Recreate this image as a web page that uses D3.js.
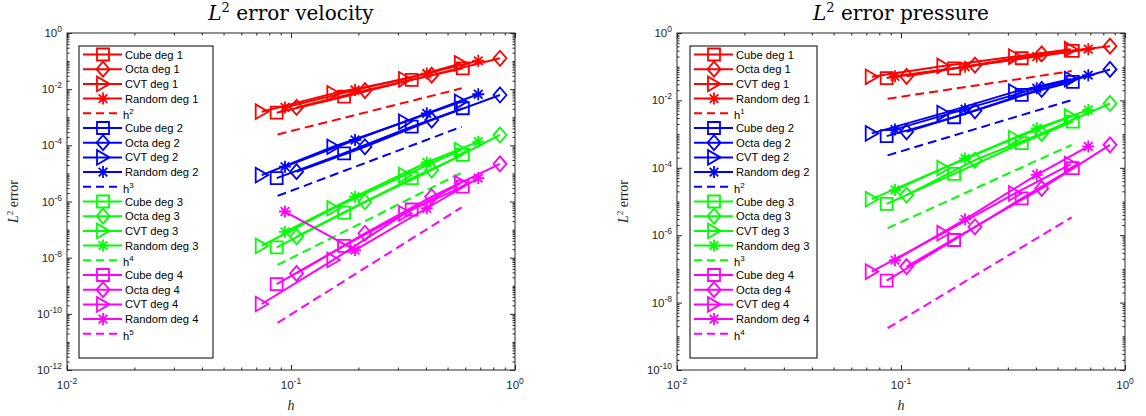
<!DOCTYPE html>
<html><head><meta charset="utf-8">
<script src="https://cdn.jsdelivr.net/npm/d3@7"></script>
<style>body{margin:0;background:#fff} svg{display:block}</style>
</head><body>
<svg id="chart" width="1146" height="416"></svg>
<script>
// ---------------- DATA ----------------
const methods = ["Cube", "Octa", "CVT", "Random"];
const degrees = [1, 2, 3, 4];
const hCube   = [0.0863, 0.1726, 0.3459, 0.5848];
const hOcta   = [0.1059, 0.2138, 0.4246, 0.857];
const hCVT    = [0.0740, 0.1545, 0.3228, 0.573];
const hRandom = [0.0940, 0.1932, 0.4036, 0.6855];
const hRef    = [0.0871, 0.578];

// velocity L2 errors
const velCube1   = [1.45e-3, 5.4e-3, 2.14e-2, 5.5e-2];
const velOcta1   = [2.24e-3, 8.9e-3, 3.16e-2, 0.126];
const velCVT1    = [1.58e-3, 7.1e-3, 2.24e-2, 8.3e-2];
const velRandom1 = [2.24e-3, 9.3e-3, 3.6e-2, 0.102];
const velRef1    = [2.44e-4, 1.07e-2];
const velCube2   = [6.8e-6, 5.2e-5, 4.6e-4, 2.09e-3];
const velOcta2   = [1.15e-5, 8.9e-5, 7.9e-4, 6.2e-3];
const velCVT2    = [8.7e-6, 8.9e-5, 6.9e-4, 3.55e-3];
const velRandom2 = [1.74e-5, 1.55e-4, 1.38e-3, 6.6e-3];
const velRef2    = [1.58e-6, 4.6e-4];
const velCube3   = [2.34e-8, 4.0e-7, 6.8e-6, 4.6e-5];
const velOcta3   = [5.6e-8, 9.8e-7, 1.32e-5, 2.34e-4];
const velCVT3    = [2.63e-8, 5.75e-7, 8.7e-6, 6.8e-5];
const velRandom3 = [8.3e-8, 1.48e-6, 2.45e-5, 1.35e-4];
const velRef3    = [5.5e-9, 1.06e-5];
const velCube4   = [1.15e-9, 2.63e-8, 5.2e-7, 3.4e-6];
const velOcta4   = [2.75e-9, 7.4e-8, 1.48e-6, 2.19e-5];
const velCVT4    = [2.24e-10, 8.3e-9, 3.8e-7, 4.5e-6];
const velRandom4 = [4.4e-7, 1.86e-8, 5.75e-7, 6.8e-6];
const velRef4    = [4.8e-11, 6.2e-7];

// pressure L2 errors
const preCube1   = [4.6e-2, 8.9e-2, 0.178, 0.295];
const preOcta1   = [5.2e-2, 0.112, 0.24, 0.407];
const preCVT1    = [5.0e-2, 0.105, 0.20, 0.331];
const preRandom1 = [5.2e-2, 0.100, 0.20, 0.331];
const preRef1    = [1.12e-2, 7.4e-2];
const preCube2   = [8.7e-4, 3.16e-3, 1.45e-2, 3.55e-2];
const preOcta2   = [1.17e-3, 4.9e-3, 2.14e-2, 8.3e-2];
const preCVT2    = [1.05e-3, 4.2e-3, 1.82e-2, 4.3e-2];
const preRandom2 = [1.38e-3, 5.5e-3, 2.29e-2, 5.6e-2];
const preRef2    = [2.34e-4, 1.02e-2];
const preCube3   = [8.5e-6, 6.6e-5, 5.4e-4, 2.34e-3];
const preOcta3   = [1.55e-5, 1.7e-4, 1.05e-3, 8.1e-3];
const preCVT3    = [1.17e-5, 9.8e-5, 7.6e-4, 3.3e-3];
const preRandom3 = [2.19e-5, 1.9e-4, 1.48e-3, 5.2e-3];
const preRef3    = [1.62e-6, 4.8e-4];
const preCube4   = [4.5e-8, 7.2e-7, 1.23e-5, 9.8e-5];
const preOcta4   = [1.17e-7, 1.78e-6, 2.45e-5, 4.8e-4];
const preCVT4    = [8.3e-8, 1.15e-6, 1.74e-5, 1.29e-4];
const preRandom4 = [1.82e-7, 2.95e-6, 6.2e-5, 4.3e-4];
const preRef4    = [1.74e-9, 3.4e-6];

const velRefPowers = ["2", "3", "4", "5"];
const preRefPowers = ["1", "2", "3", "4"];
const velYTicks = [1e-12, 1e-10, 1e-8, 1e-6, 1e-4, 1e-2, 1];
const preYTicks = [1e-10, 1e-8, 1e-6, 1e-4, 1e-2, 1];
const xTicks = [1e-2, 1e-1, 1];

// ---------------- STYLE ----------------
const colors = ["#ff0000", "#0000ff", "#00ff00", "#ff00ff"];
const hByMethod = {Cube: hCube, Octa: hOcta, CVT: hCVT, Random: hRandom};
const markerByMethod = {Cube: "square", Octa: "diamond", CVT: "triangle", Random: "star"};
const axisColor = "#262626";
const sansFont = "'Liberation Sans', Arial, Helvetica, sans-serif";
const serifFont = "'Liberation Serif', 'Times New Roman', serif";
const titleFont = "'DejaVu Serif', 'Liberation Serif', serif";

function markerPath(t) {
  if (t === "square") return "M-6,-6H6V6H-6Z";
  if (t === "diamond") return "M0,-7.5L6.5,0L0,7.5L-6.5,0Z";
  if (t === "triangle") return "M6.5,0L-6,-7.3L-6,7.3Z";
  return "M0,-6V6M-6,0H6M-4.3,-4.3L4.3,4.3M-4.3,4.3L4.3,-4.3";
}

const velData = {
  Cube: [velCube1, velCube2, velCube3, velCube4],
  Octa: [velOcta1, velOcta2, velOcta3, velOcta4],
  CVT: [velCVT1, velCVT2, velCVT3, velCVT4],
  Random: [velRandom1, velRandom2, velRandom3, velRandom4],
  Ref: [velRef1, velRef2, velRef3, velRef4]
};
const preData = {
  Cube: [preCube1, preCube2, preCube3, preCube4],
  Octa: [preOcta1, preOcta2, preOcta3, preOcta4],
  CVT: [preCVT1, preCVT2, preCVT3, preCVT4],
  Random: [preRandom1, preRandom2, preRandom3, preRandom4],
  Ref: [preRef1, preRef2, preRef3, preRef4]
};

const svg = d3.select("#chart");

function addPow(sel, base, exp, baseSize, expSize, rise) {
  sel.append("tspan").text(base).attr("font-size", baseSize);
  sel.append("tspan").text(exp).attr("font-size", expSize).attr("dy", -rise);
}

function drawPanel(opt) {
  const {x0, x1, y0, y1, yMin, yTicks, data, powers, title} = opt;
  const g = svg.append("g");
  const x = d3.scaleLog().domain([0.01, 1]).range([x0, x1]);
  const y = d3.scaleLog().domain([yMin, 1]).range([y1, y0]);

  const xMinor = [];
  for (let e = -2; e < 0; e++) for (let m = 2; m <= 9; m++) xMinor.push(m * Math.pow(10, e));
  const yMinor = [];
  const eMin = Math.round(Math.log10(yMin));
  for (let e = eMin; e < 0; e++) for (let m = 1; m <= 9; m++) {
    const v = m * Math.pow(10, e);
    if (!yTicks.some(t => Math.abs(Math.log10(t) - Math.log10(v)) < 1e-9)) yMinor.push(v);
  }

  const axes = [
    [d3.axisBottom(x), `translate(0,${y1})`, xTicks, xMinor],
    [d3.axisTop(x), `translate(0,${y0})`, xTicks, xMinor],
    [d3.axisLeft(y), `translate(${x0},0)`, yTicks, yMinor],
    [d3.axisRight(y), `translate(${x1},0)`, yTicks, yMinor]
  ];
  axes.forEach(([ax, tr, major, minor]) => {
    const ga = g.append("g").attr("transform", tr)
      .call(ax.tickValues(major).tickSize(-5).tickSizeOuter(0).tickFormat(""));
    ga.select(".domain").remove();
    ga.selectAll("line").attr("stroke", axisColor);
    const gm = g.append("g").attr("transform", tr)
      .call(ax.tickValues(minor).tickSize(-2.5).tickSizeOuter(0).tickFormat(""));
    gm.select(".domain").remove();
    gm.selectAll("line").attr("stroke", axisColor);
  });
  g.append("rect").attr("x", x0).attr("y", y0).attr("width", x1 - x0).attr("height", y1 - y0)
    .attr("fill", "none").attr("stroke", axisColor).attr("stroke-width", 1);

  yTicks.forEach(v => {
    const t = g.append("text").attr("x", x0 - 5).attr("y", y(v) + 4)
      .attr("text-anchor", "end").attr("font-family", sansFont).attr("fill", axisColor);
    addPow(t, "10", String(Math.round(Math.log10(v))), 11.5, 8.5, 5);
  });
  xTicks.forEach(v => {
    const t = g.append("text").attr("x", x(v)).attr("y", y1 + 18.5)
      .attr("text-anchor", "middle").attr("font-family", sansFont).attr("fill", axisColor);
    addPow(t, "10", String(Math.round(Math.log10(v))), 11.5, 8.5, 5);
  });

  g.append("text").attr("x", (x0 + x1) / 2).attr("y", y1 + 40)
    .attr("text-anchor", "middle").attr("font-family", serifFont).attr("font-size", 14)
    .attr("font-style", "italic").attr("fill", axisColor).text("h");
  const yl = g.append("text").attr("transform", `translate(${x0 - 49},${(y0 + y1) / 2}) rotate(-90)`)
    .attr("text-anchor", "middle").attr("font-family", serifFont).attr("font-size", 14).attr("fill", axisColor);
  yl.append("tspan").attr("font-style", "italic").text("L");
  yl.append("tspan").attr("font-size", 9).attr("dy", -5).text("2");
  yl.append("tspan").attr("dy", 5).text(" error");

  const tt = g.append("text").attr("x", (x0 + x1) / 2).attr("y", 20)
    .attr("text-anchor", "middle").attr("font-family", titleFont).attr("font-size", 20).attr("fill", "#000");
  tt.append("tspan").attr("font-style", "italic").text("L");
  tt.append("tspan").attr("font-size", 13).attr("dy", -8).text("2");
  tt.append("tspan").attr("dy", 8).text(" error " + title);

  const line = d3.line().x(d => x(d[0])).y(d => y(d[1]));
  const legendItems = [];
  degrees.forEach((deg, di) => {
    const col = colors[di];
    methods.forEach(m => {
      const pts = hByMethod[m].map((h, i) => [h, data[m][di][i]]);
      g.append("path").attr("d", line(pts)).attr("fill", "none")
        .attr("stroke", col).attr("stroke-width", 2).attr("stroke-linejoin", "round");
      g.selectAll(null).data(pts).enter().append("path")
        .attr("transform", d => `translate(${x(d[0])},${y(d[1])})`)
        .attr("d", markerPath(markerByMethod[m])).attr("fill", "none")
        .attr("stroke", col).attr("stroke-width", 1.8);
      legendItems.push({type: "data", m, col, label: `${m} deg ${deg}`});
    });
    const rpts = hRef.map((h, i) => [h, data.Ref[di][i]]);
    g.append("path").attr("d", line(rpts)).attr("fill", "none")
      .attr("stroke", col).attr("stroke-width", 2).attr("stroke-dasharray", "9,5");
    legendItems.push({type: "ref", col, pow: powers[di]});
  });

  const lx = opt.legX, lw = opt.legW, ly = 46, lh = 312;
  const lg = g.append("g");
  lg.append("rect").attr("x", lx).attr("y", ly).attr("width", lw).attr("height", lh)
    .attr("fill", "#fff").attr("stroke", "#000").attr("stroke-width", 1);
  legendItems.forEach((it, i) => {
    const cy = 54.5 + i * 14.7;
    const ln = lg.append("line").attr("x1", lx + 4).attr("x2", lx + 43).attr("y1", cy).attr("y2", cy)
      .attr("stroke", it.col).attr("stroke-width", 2);
    if (it.type === "data") {
      lg.append("path").attr("transform", `translate(${lx + 24},${cy})`)
        .attr("d", markerPath(markerByMethod[it.m])).attr("fill", "none")
        .attr("stroke", it.col).attr("stroke-width", 1.8);
      lg.append("text").attr("x", lx + 46).attr("y", cy + 4).attr("font-family", sansFont)
        .attr("font-size", 11.2).attr("fill", "#000").text(it.label);
    } else {
      ln.attr("stroke-dasharray", "8,5");
      const t = lg.append("text").attr("x", lx + 44).attr("y", cy + 6).attr("font-family", sansFont)
        .attr("fill", "#000");
      addPow(t, "h", it.pow, 11.2, 8, 5);
    }
  });
}

drawPanel({x0: 67, x1: 515, y0: 33, y1: 370, yMin: 1e-12, yTicks: velYTicks,
  data: velData, powers: velRefPowers, title: "velocity", legX: 79, legW: 134});
drawPanel({x0: 677, x1: 1125, y0: 33, y1: 370, yMin: 1e-10, yTicks: preYTicks,
  data: preData, powers: preRefPowers, title: "pressure", legX: 690, legW: 127});
</script>
</body></html>
